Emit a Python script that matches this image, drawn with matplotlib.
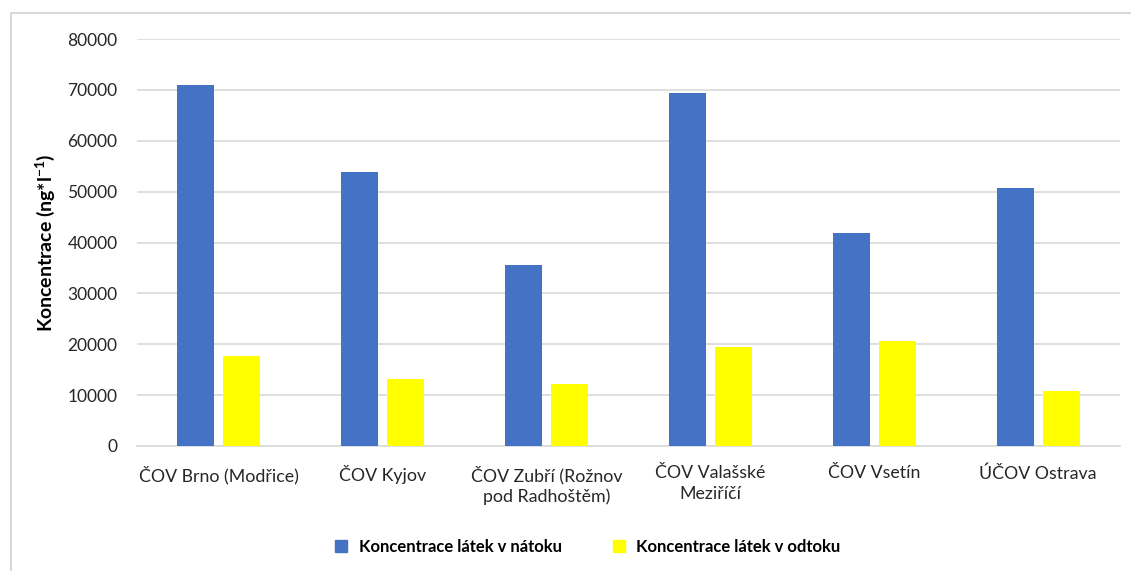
import numpy as np
import matplotlib
matplotlib.use("Agg")
import matplotlib.pyplot as plt
from matplotlib.lines import Line2D

plt.rcParams['font.family'] = ['Lato', 'DejaVu Sans']

categories = ["ČOV Brno (Modřice)", "ČOV Kyjov", "ČOV Zubří (Rožnov\npod Radhoštěm)",
              "ČOV Valašské\nMeziříčí", "ČOV Vsetín", "ÚČOV Ostrava"]
natok = [71000, 53900, 35600, 69400, 41900, 50700]
odtok = [17700, 13200, 12200, 19500, 20600, 10800]
series_names = ["Koncentrace látek v nátoku", "Koncentrace látek v odtoku"]
colors = ["#4472C4", "#FFFF00"]

fig = plt.figure(figsize=(11.31, 5.71), dpi=100)
ax = fig.add_axes([137/1131, 1 - 446/571, (1120 - 137)/1131, (446 - 39)/571])

x = np.arange(len(categories))
w = 0.226
off = 0.14
ax.bar(x - off, natok, w, color=colors[0], label=series_names[0], zorder=3)
ax.bar(x + off, odtok, w, color=colors[1], label=series_names[1], zorder=3)

ax.set_xlim(-0.5, len(categories) - 0.5)
ax.set_ylim(0, 80000)
ax.set_yticks(np.arange(0, 80001, 10000))
ax.yaxis.grid(True, color="#D9D9D9", linewidth=1.2, zorder=0)
ax.set_xticks(x)
ax.set_xticklabels(categories, fontsize=12.8, color="#262626", linespacing=1.35)
ax.tick_params(axis="y", labelsize=12.5, labelcolor="#262626", length=0, pad=14)
ax.tick_params(axis="x", length=0, pad=14)
for s in ["top", "right", "left"]:
    ax.spines[s].set_visible(False)
ax.spines["bottom"].set_color("#D9D9D9")
ax.spines["bottom"].set_linewidth(1.2)

ax.set_ylabel(r"Koncentrace (ng*l$^{\mathregular{-1}}$)", fontsize=14, fontweight="bold")
ax.yaxis.set_label_coords(-0.081, 0.5)

handles = [Line2D([], [], marker="s", linestyle="", markersize=9, color=c) for c in colors]
leg = fig.legend(handles, series_names, loc="center", bbox_to_anchor=(0.515, 1 - 547/571),
                 ncol=2, frameon=False, handletextpad=0.05, columnspacing=2.4,
                 prop={"weight": "bold", "size": 12})

# chart frame
fig.add_artist(Line2D([11/1131, 11/1131], [0, 1 - 13/571], transform=fig.transFigure,
                      color="#D9D9D9", linewidth=1.5))
fig.add_artist(Line2D([11/1131, 1], [1 - 13/571, 1 - 13/571], transform=fig.transFigure,
                      color="#D9D9D9", linewidth=1.5))

fig.savefig("out.png", dpi=100)
